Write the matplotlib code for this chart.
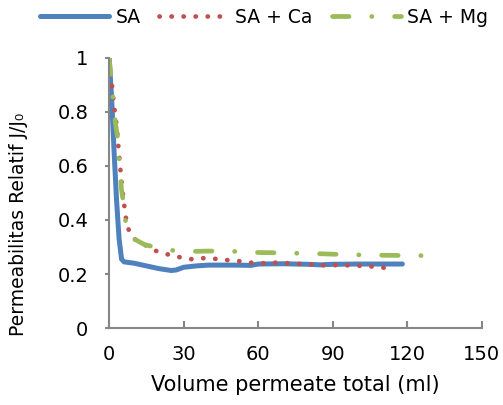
import numpy as np
import matplotlib.pyplot as plt

sa_x = [0, 1, 2, 3, 4, 5, 6, 10, 15, 20, 25, 27, 30, 35, 40, 50, 57, 60, 70, 80, 85, 90, 100, 110, 118]
sa_y = [1.0, 0.85, 0.65, 0.47, 0.33, 0.255, 0.245, 0.24, 0.23, 0.22, 0.213, 0.215, 0.225, 0.23, 0.233,
        0.233, 0.232, 0.237, 0.238, 0.236, 0.234, 0.236, 0.237, 0.237, 0.237]

ca_x = [0.5, 1, 2, 3, 4, 5, 6, 7, 8, 10, 14, 18, 23, 28, 33, 37, 43, 47, 52, 57, 62, 67, 72, 77, 82,
        87, 92, 97, 102, 107, 111]
ca_y = [0.94, 0.91, 0.82, 0.75, 0.64, 0.54, 0.46, 0.39, 0.36, 0.33, 0.31, 0.288, 0.274, 0.263, 0.255,
        0.259, 0.256, 0.252, 0.248, 0.242, 0.24, 0.242, 0.24, 0.237, 0.235, 0.232, 0.233, 0.232,
        0.23, 0.227, 0.223]

mg_x = [0, 0.7, 1.6, 2.5, 3.5, 4.2, 5, 6, 7, 10, 14, 20, 25, 30, 40, 50, 57, 65, 75, 85, 95, 105, 115, 128]
mg_y = [1.0, 0.93, 0.845, 0.76, 0.70, 0.60, 0.51, 0.45, 0.36, 0.33, 0.31, 0.295, 0.288, 0.283, 0.285,
        0.284, 0.28, 0.279, 0.277, 0.275, 0.272, 0.27, 0.269, 0.268]

x_ticks = [0, 30, 60, 90, 120, 150]
y_ticks = [0, 0.2, 0.4, 0.6, 0.8, 1]
y_labels = ['0', '0.2', '0.4', '0.6', '0.8', '1']

fig = plt.figure(figsize=(5.03, 4.05), dpi=100)
ax = fig.add_axes([0.217, 0.19, 0.741, 0.667])

ax.plot(sa_x, sa_y, color='#4F81BD', lw=3.6, solid_capstyle='round', label='SA')
ax.plot(ca_x, ca_y, color='#C0504D', lw=3.4, linestyle=(0, (0.05, 2.5)),
        dash_capstyle='round', label='SA + Ca')
ax.plot(mg_x, mg_y, color='#9BBB59', lw=3.4, linestyle=(0, (3.5, 4.8, 0.05, 4.8)),
        dash_capstyle='round', label='SA + Mg')

ax.set_xlim(0, 150)
ax.set_ylim(0, 1)
ax.set_xticks(x_ticks)
ax.set_yticks(y_ticks)
ax.set_yticklabels(y_labels)

for s in ['top', 'right']:
    ax.spines[s].set_visible(False)
for s in ['left', 'bottom']:
    ax.spines[s].set_color('#868686')
    ax.spines[s].set_linewidth(1.5)

ax.tick_params(axis='x', direction='in', length=5, width=1.5, color='#868686', labelsize=14, pad=12)
ax.tick_params(axis='y', direction='out', length=3, width=1.5, color='#868686', labelsize=14, pad=12)

ax.set_xlabel('Volume permeate total (ml)', fontsize=15, labelpad=8)
ax.set_ylabel('Permeabilitas Relatif J/J₀', fontsize=13.5)
ax.yaxis.set_label_coords(-0.218, 0.385)

fig.legend(loc='center', bbox_to_anchor=(0.525, 0.958), ncol=3, frameon=False, fontsize=13.5,
           handlelength=3.7, columnspacing=1.0, handletextpad=0.35)

plt.savefig('out.png', dpi=100)
